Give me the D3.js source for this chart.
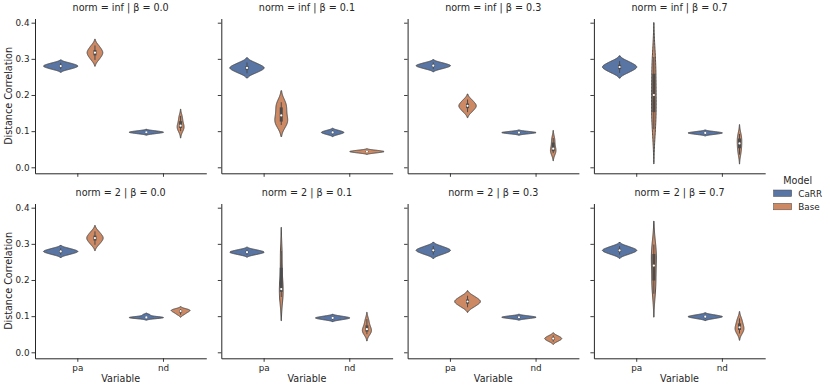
<!DOCTYPE html>
<html><head><meta charset="utf-8">
<script src="https://cdn.jsdelivr.net/npm/d3@7"></script>
<style>
body{margin:0;background:#fff}
svg{display:block}
text{font-family:"DejaVu Sans",sans-serif;fill:#262626}
</style>
</head><body>
<svg id="c" width="830" height="388"></svg>
<script>
// ---------- data ----------
const variables = ["pa", "nd"];
const models = ["CaRR", "Base"];
const norms = ["inf", "2"];
const betas = ["0.0", "0.1", "0.3", "0.7"];
const yTicks = [0.0, 0.1, 0.2, 0.3, 0.4];

// samples per beta (0.0, 0.1, 0.3, 0.7)
const infCaRRpa = [
  [0.271,0.274,0.2775,0.279,0.281,0.2825,0.286,0.289],
  [0.260,0.2655,0.271,0.2737,0.2763,0.279,0.2845,0.290],
  [0.2721,0.2753,0.2786,0.2802,0.2818,0.2834,0.2867,0.2899],
  [0.261,0.267,0.273,0.276,0.279,0.282,0.288,0.294]
];
const infBasepa = [
  [0.297,0.304,0.3115,0.315,0.319,0.3225,0.330,0.337],
  [0.117,0.122,0.128,0.137,0.150,0.163,0.174,0.180],
  [0.1525,0.1588,0.1652,0.1684,0.1716,0.1748,0.1812,0.1875],
  [0.105,0.13,0.16,0.185,0.215,0.25,0.285,0.305]
];
const infCaRRnd = [
  [0.0927,0.0943,0.0958,0.0966,0.0974,0.0982,0.0997,0.1013],
  [0.0903,0.0925,0.0948,0.0959,0.0971,0.0982,0.1005,0.1027],
  [0.0922,0.0936,0.095,0.0957,0.0963,0.097,0.0984,0.0998],
  [0.0907,0.0923,0.0938,0.0946,0.0954,0.0962,0.0977,0.0993]
];
const infBasend = [
  [0.100,0.106,0.110,0.113,0.117,0.125,0.135,0.142],
  [0.0394,0.0409,0.0424,0.0431,0.0439,0.0446,0.0461,0.0476],
  [0.039,0.0424,0.0449,0.0483,0.055,0.0659,0.076,0.081],
  [0.035,0.045,0.055,0.062,0.070,0.078,0.085,0.092]
];
const twoCaRRpa = [
  [0.2701,0.2733,0.2766,0.2782,0.2798,0.2814,0.2847,0.2879],
  [0.2697,0.2724,0.275,0.2763,0.2777,0.279,0.2816,0.2843],
  [0.2701,0.2744,0.2788,0.2809,0.2831,0.2852,0.2896,0.2939],
  [0.2703,0.2745,0.2787,0.2808,0.2830,0.2851,0.2894,0.2936]
];
const twoBasepa = [
  [0.2974,0.3042,0.3109,0.3143,0.3177,0.3211,0.3278,0.3346],
  [0.153,0.162,0.169,0.173,0.177,0.223,0.267,0.280],
  [0.1246,0.1304,0.1362,0.1391,0.1419,0.1448,0.1506,0.1564],
  [0.162,0.182,0.204,0.228,0.252,0.268,0.284,0.298]
];
const twoCaRRnd = [
  [0.0935,0.0945,0.0955,0.0962,0.0968,0.0975,0.0995,0.1040],
  [0.0896,0.0916,0.0935,0.0945,0.0955,0.0965,0.0984,0.1004],
  [0.0927,0.0943,0.0958,0.0966,0.0974,0.0982,0.0997,0.1013],
  [0.0928,0.0949,0.097,0.098,0.099,0.1,0.1021,0.1042]
];
const twoBasend = [
  [0.104,0.108,0.111,0.113,0.115,0.117,0.118,0.119],
  [0.050,0.055,0.058,0.062,0.066,0.072,0.082,0.092],
  [0.0294,0.0325,0.0356,0.0372,0.0388,0.0404,0.0435,0.0466],
  [0.052,0.058,0.063,0.067,0.071,0.078,0.086,0.094]
];

const sampleTable = {
  inf: {CaRR: {pa: infCaRRpa, nd: infCaRRnd}, Base: {pa: infBasepa, nd: infBasend}},
  "2": {CaRR: {pa: twoCaRRpa, nd: twoCaRRnd}, Base: {pa: twoBasepa, nd: twoBasend}}
};

// ---------- layout ----------
const panelLeft = [35, 221.3, 407.6, 593.9];
const panelW = 171.3;
const rowTop = [18.5, 203.5];
const panelH = 154.8;
const colors = {CaRR: "#5975a4", Base: "#cc8963"};
const gray = "#4c4c4c";
const axisColor = "#262626";
const lw = 1;

const svg = d3.select("#c");

function kde(sample) {
  const n = sample.length;
  const bw = d3.deviation(sample) * Math.pow(n, -0.2);
  const lo = d3.min(sample) - 2 * bw, hi = d3.max(sample) + 2 * bw;
  const grid = d3.range(100).map(i => lo + (hi - lo) * i / 99);
  const dens = grid.map(g => d3.mean(sample, v => Math.exp(-0.5 * ((g - v) / bw) ** 2)) / (bw * Math.sqrt(2 * Math.PI)));
  return grid.map((g, i) => ({v: g, d: dens[i]}));
}

norms.forEach((norm, r) => {
  betas.forEach((beta, c) => {
    const g = svg.append("g").attr("transform", `translate(${panelLeft[c]},${rowTop[r]})`);
    const x = d3.scaleBand().domain(variables).range([0, panelW]);
    const hue = d3.scaleBand().domain(models).range([-0.4 * x.bandwidth(), 0.4 * x.bandwidth()]);
    const y = d3.scaleLinear().domain([-0.0166, 0.4116]).range([panelH, 0]);
    const dwidth = hue.bandwidth() / 2;

    // violins
    variables.forEach(v => {
      const curves = models.map(m => kde(sampleTable[norm][m][v][c]));
      const maxD = d3.max(curves, cv => d3.max(cv, p => p.d));
      models.forEach((m, mi) => {
        const cx = x(v) + x.bandwidth() / 2 + hue(m) + hue.bandwidth() / 2;
        const cv = curves[mi];
        const area = d3.area()
          .y(p => y(p.v))
          .x0(p => cx - dwidth * p.d / maxD)
          .x1(p => cx + dwidth * p.d / maxD);
        g.append("path").datum(cv).attr("d", area)
          .attr("fill", colors[m]).attr("stroke", gray).attr("stroke-width", lw);
      });
      models.forEach((m, mi) => {
        const cx = x(v) + x.bandwidth() / 2 + hue(m) + hue.bandwidth() / 2;
        const s = sampleTable[norm][m][v][c].slice().sort(d3.ascending);
        const q1 = d3.quantile(s, 0.25), q2 = d3.quantile(s, 0.5), q3 = d3.quantile(s, 0.75);
        const iqr = q3 - q1;
        const h1 = d3.min(s.filter(d => d >= q1 - 1.5 * iqr));
        const h2 = d3.max(s.filter(d => d <= q3 + 1.5 * iqr));
        g.append("line").attr("x1", cx).attr("x2", cx).attr("y1", y(h1)).attr("y2", y(h2))
          .attr("stroke", gray).attr("stroke-width", lw);
        g.append("line").attr("x1", cx).attr("x2", cx).attr("y1", y(q1)).attr("y2", y(q3))
          .attr("stroke", gray).attr("stroke-width", lw * 3);
        g.append("circle").attr("cx", cx).attr("cy", y(q2)).attr("r", 1.1).attr("fill", "#fff");
      });
    });

    // axes
    const ya = g.append("g").call(d3.axisLeft(y).tickValues(yTicks).tickSize(3.5).tickSizeOuter(0)
      .tickFormat(c === 0 ? d3.format(".1f") : () => ""));
    const xa = g.append("g").attr("transform", `translate(0,${panelH})`)
      .call(d3.axisBottom(x).tickSize(3.5).tickSizeOuter(0).tickFormat(r === 1 ? (d => d) : () => ""));
    [ya, xa].forEach(a => {
      a.attr("font-family", null).attr("font-size", null);
      a.select(".domain").attr("stroke", axisColor).attr("stroke-width", 1);
      a.selectAll(".tick line").attr("stroke", axisColor).attr("stroke-width", 0.9);
      a.selectAll(".tick text").attr("fill", "#262626").style("font-size", "8.8px");
    });
    ya.selectAll(".tick text").attr("x", -5.5);
    xa.selectAll(".tick text").attr("y", 6.5);

    // title
    g.append("text").attr("x", panelW / 2).attr("y", -8)
      .attr("text-anchor", "middle").style("font-size", "9.6px")
      .text(`norm = ${norm} | β = ${beta}`);

    if (c === 0) {
      g.append("text").attr("transform", `translate(-23,${panelH / 2}) rotate(-90)`)
        .attr("text-anchor", "middle").style("font-size", "9.6px").text("Distance Correlation");
    }
    if (r === 1) {
      g.append("text").attr("x", panelW / 2).attr("y", panelH + 24)
        .attr("text-anchor", "middle").style("font-size", "9.6px").text("Variable");
    }
  });
});

// legend
const lg = svg.append("g").attr("transform", "translate(773,0)");
lg.append("text").attr("x", 10.3).attr("y", 184).style("font-size", "9.6px").text("Model");
models.forEach((m, i) => {
  lg.append("rect").attr("x", 0.5).attr("y", 190 + i * 13.3).attr("width", 18.2).attr("height", 6.5)
    .attr("fill", colors[m]).attr("stroke", gray).attr("stroke-width", 0.5);
  lg.append("text").attr("x", 25.3).attr("y", 196.8 + i * 13.3).style("font-size", "8.8px").text(m);
});
</script>
</body></html>
